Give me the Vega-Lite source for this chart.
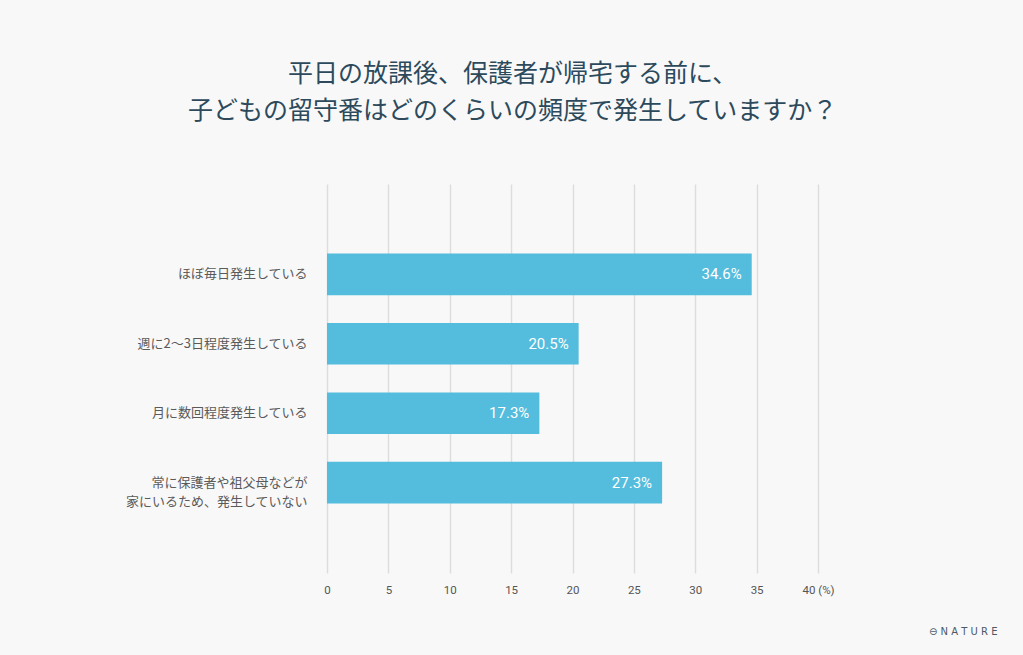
{
  "$schema": "https://vega.github.io/schema/vega-lite/v6.json",
  "width": 491,
  "height": 389,
  "autosize": "none",
  "padding": {"left": 327, "top": 184, "right": 205, "bottom": 82},
  "background": "#f8f8f8",
  "title": {
    "text": ["平日の放課後、保護者が帰宅する前に、", "子どもの留守番はどのくらいの頻度で発生していますか？"],
    "anchor": "middle",
    "dx": -60,
    "offset": 60,
    "font": "Noto Sans CJK JP",
    "fontSize": 25,
    "fontWeight": "normal",
    "lineHeight": 37,
    "color": "#2c4a5c"
  },
  "data": {
    "values": [
      {"answer": "ほぼ毎日発生している", "value": 34.6},
      {"answer": "週に2〜3日程度発生している", "value": 20.5},
      {"answer": "月に数回程度発生している", "value": 17.3},
      {"answer": "常に保護者や祖父母などが家にいるため、発生していない", "value": 27.3}
    ]
  },
  "transform": [
    {"calculate": "format(datum.value, '.1f') + '%'", "as": "label"}
  ],
  "encoding": {
    "y": {
      "field": "answer",
      "type": "nominal",
      "sort": null,
      "scale": {"paddingInner": 0.4, "paddingOuter": 1.05},
      "axis": {
        "title": null,
        "domain": false,
        "ticks": false,
        "grid": false,
        "labelPadding": 20,
        "labelFont": "Noto Sans CJK JP",
        "labelFontSize": 13,
        "labelColor": "#5a5a5a",
        "labelLineHeight": 19,
        "labelLimit": 300,
        "labelExpr": "datum.value == '常に保護者や祖父母などが家にいるため、発生していない' ? ['常に保護者や祖父母などが', '家にいるため、発生していない'] : datum.value"
      }
    },
    "x": {
      "field": "value",
      "type": "quantitative",
      "scale": {"domain": [0, 40], "nice": false},
      "axis": {
        "values": [0, 5, 10, 15, 20, 25, 30, 35, 40],
        "domain": false,
        "ticks": false,
        "grid": true,
        "gridColor": "#dddddd",
        "gridWidth": 1.5,
        "labelFlush": false,
        "labelPadding": 11,
        "labelFont": "Roboto",
        "labelFontSize": 11.5,
        "labelColor": "#555555",
        "labelExpr": "datum.value == 40 ? '40 (%)' : datum.label",
        "title": "⊖ N A T U R E",
        "titleFont": "DejaVu Sans",
        "titleFontSize": 10,
        "titleFontWeight": "normal",
        "titleColor": "#4a5a66",
        "titleAlign": "right",
        "titleBaseline": "middle",
        "titleX": 670,
        "titleY": 58
      }
    }
  },
  "layer": [
    {
      "mark": {"type": "bar", "color": "#54bcdc"}
    },
    {
      "mark": {
        "type": "text",
        "align": "right",
        "baseline": "middle",
        "dx": -10,
        "font": "Roboto",
        "fontSize": 15,
        "color": "#ffffff"
      },
      "encoding": {"text": {"field": "label"}}
    }
  ],
  "config": {"view": {"stroke": null}}
}
